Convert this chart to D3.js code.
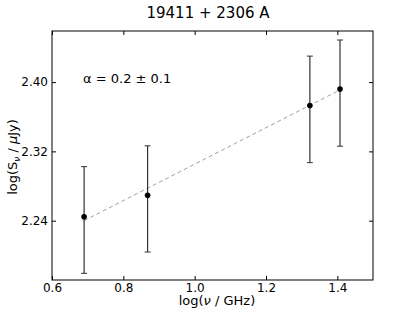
<!DOCTYPE html>
<html>
<head>
<meta charset="utf-8">
<script src="https://cdn.jsdelivr.net/npm/d3@7"></script>
<style>
  body { margin: 0; background: #fff; }
  svg text { font-family: "DejaVu Sans", sans-serif; fill: #000; }
</style>
</head>
<body>
<div id="container"></div>
<script>
const logNu = [0.690, 0.868, 1.323, 1.4075];
const logS = [2.2446, 2.2694, 2.373, 2.3919];
const errHi = [0.0578, 0.057, 0.057, 0.0567];
const errLo = [0.0654, 0.0656, 0.066, 0.0659];
const fitX = [0.690, 1.4075];
const fitY = [2.240, 2.391];
const xTicks = [0.6, 0.8, 1.0, 1.2, 1.4];
const yTicks = [2.24, 2.32, 2.40];

const dimensions = { x: 415, y: 312 };
const plot = { left: 52, right: 373, top: 31, bottom: 280 };
const tickLen = 4;

const svg = d3
  .select('#container')
  .append('svg')
  .attr('width', dimensions.x)
  .attr('height', dimensions.y);

const x = d3.scaleLinear().domain([0.6, 1.5]).range([plot.left, plot.right]);
const y = d3.scaleLinear().domain([2.1715, 2.459]).range([plot.bottom, plot.top]);

// fit line
svg
  .append('line')
  .attr('x1', x(fitX[0]))
  .attr('y1', y(fitY[0]))
  .attr('x2', x(fitX[1]))
  .attr('y2', y(fitY[1]))
  .attr('stroke', '#a0a0a0')
  .attr('stroke-width', 1)
  .attr('stroke-dasharray', '4,3');

// error bars
const bars = svg.append('g').selectAll('g').data(logNu).enter().append('g');
bars
  .append('line')
  .attr('x1', (d) => x(d))
  .attr('x2', (d) => x(d))
  .attr('y1', (d, i) => y(logS[i] + errHi[i]))
  .attr('y2', (d, i) => y(logS[i] - errLo[i]))
  .attr('stroke', '#333')
  .attr('stroke-width', 1.2);
bars
  .append('line')
  .attr('x1', (d) => x(d) - 3)
  .attr('x2', (d) => x(d) + 3)
  .attr('y1', (d, i) => y(logS[i] + errHi[i]))
  .attr('y2', (d, i) => y(logS[i] + errHi[i]))
  .attr('stroke', '#333');
bars
  .append('line')
  .attr('x1', (d) => x(d) - 3)
  .attr('x2', (d) => x(d) + 3)
  .attr('y1', (d, i) => y(logS[i] - errLo[i]))
  .attr('y2', (d, i) => y(logS[i] - errLo[i]))
  .attr('stroke', '#333');
bars
  .append('circle')
  .attr('cx', (d) => x(d))
  .attr('cy', (d, i) => y(logS[i]))
  .attr('r', 2.8)
  .attr('fill', '#000');

// frame
svg
  .append('rect')
  .attr('x', plot.left)
  .attr('y', plot.top)
  .attr('width', plot.right - plot.left)
  .attr('height', plot.bottom - plot.top)
  .attr('fill', 'none')
  .attr('stroke', '#000')
  .attr('stroke-width', 1);

// axes with inward ticks
function styleAxis(g) {
  g.select('.domain').remove();
  g.selectAll('.tick line').attr('stroke', '#000');
  g.selectAll('.tick text').style('font-size', '12px').style('font-family', '"DejaVu Sans", sans-serif');
}

svg
  .append('g')
  .attr('transform', 'translate(0,' + plot.bottom + ')')
  .call(d3.axisBottom(x).tickValues(xTicks).tickFormat(d3.format('.1f')).tickSizeInner(-tickLen).tickPadding(3))
  .call(styleAxis);
svg
  .append('g')
  .attr('transform', 'translate(0,' + plot.top + ')')
  .call(d3.axisTop(x).tickValues(xTicks).tickFormat('').tickSizeInner(-tickLen))
  .call(styleAxis);
svg
  .append('g')
  .attr('transform', 'translate(' + plot.left + ',0)')
  .call(d3.axisLeft(y).tickValues(yTicks).tickFormat(d3.format('.2f')).tickSizeInner(-tickLen).tickPadding(4))
  .call(styleAxis);
svg
  .append('g')
  .attr('transform', 'translate(' + plot.right + ',0)')
  .call(d3.axisRight(y).tickValues(yTicks).tickFormat('').tickSizeInner(-tickLen))
  .call(styleAxis);

// title and labels
svg
  .append('text')
  .attr('x', 208)
  .attr('y', 18)
  .attr('text-anchor', 'middle')
  .style('font-size', '15px')
  .text('19411 + 2306 A');

svg
  .append('text')
  .attr('x', 83)
  .attr('y', 83)
  .style('font-size', '13px')
  .text('α = 0.2 ± 0.1');

const xlab = svg
  .append('text')
  .attr('x', 217)
  .attr('y', 305)
  .attr('text-anchor', 'middle')
  .style('font-size', '13px');
xlab.append('tspan').text('log(');
xlab.append('tspan').style('font-style', 'italic').text('ν');
xlab.append('tspan').text(' / GHz)');

const ylab = svg
  .append('text')
  .attr('transform', 'translate(17,' + 157 + ') rotate(-90)')
  .attr('text-anchor', 'middle')
  .style('font-size', '13px');
ylab.append('tspan').text('log(S');
ylab.append('tspan').style('font-style', 'italic').style('font-size', '9px').attr('dy', 3).text('ν');
ylab.append('tspan').attr('dy', -3).text(' / ');
ylab.append('tspan').style('font-style', 'italic').text('μ');
ylab.append('tspan').text('Jy)');
</script>
</body>
</html>
